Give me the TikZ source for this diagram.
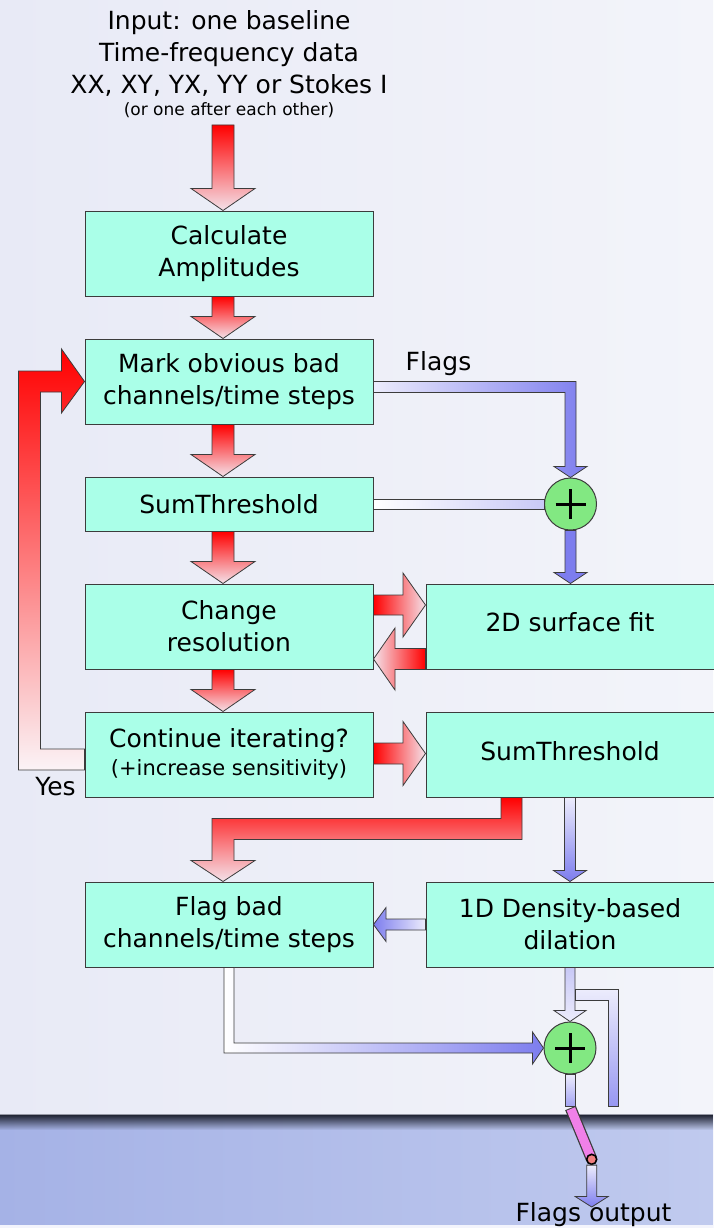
\documentclass[tikz,border=0pt]{standalone}
\usepackage{fontspec}
\setmainfont{DejaVu Sans}
\usetikzlibrary{calc,fadings}

\definecolor{boxfill}{RGB}{170,255,232}
\definecolor{boxline}{RGB}{60,60,60}
\definecolor{plusfill}{RGB}{130,232,130}
\definecolor{flowred}{RGB}{255,0,0}
\definecolor{redpale}{RGB}{244,226,234}
\definecolor{flowblue}{RGB}{125,125,238}
\definecolor{bluepale}{RGB}{236,236,252}
\definecolor{bluemid}{RGB}{200,200,246}
\definecolor{switchpink}{RGB}{240,128,232}
\definecolor{pivotred}{RGB}{240,128,128}
\definecolor{skyleft}{RGB}{232,234,246}
\definecolor{skyright}{RGB}{243,244,250}
\definecolor{bandleft}{RGB}{165,178,230}
\definecolor{bandright}{RGB}{192,202,238}
\definecolor{bandshadow}{RGB}{34,38,54}
\definecolor{bandedge}{RGB}{150,152,165}

\tikzset{
  procbox/.style={draw=boxline, fill=boxfill, line width=1pt, minimum width=288pt,
    minimum height=85pt, inner sep=0pt, align=center},
  thinbox/.style={procbox, minimum height=54pt},
  sumnode/.style={circle, draw=boxline, fill=plusfill, line width=1pt, minimum size=52pt, inner sep=0pt,
    path picture={\draw[line width=3pt, black]
      ([xshift=-15pt]path picture bounding box.center) -- ([xshift=15pt]path picture bounding box.center)
      ([yshift=-15pt]path picture bounding box.center) -- ([yshift=15pt]path picture bounding box.center);}},
  flow/.style={draw=boxline, line width=0.8pt},
  redflow/.style={flow, top color=flowred, bottom color=redpale},
}

% block arrow going down: style, from, to, shaft half width, head half width, head length
\newcommand{\downblock}[6]{%
  \path[#1] let \p1=(#2), \p2=(#3) in
    ({\x1-#4},{\y1}) -- ({\x1-#4},{\y2+#6}) -- ({\x1-#5},{\y2+#6}) -- ({\x1},{\y2})
    -- ({\x1+#5},{\y2+#6}) -- ({\x1+#4},{\y2+#6}) -- ({\x1+#4},{\y1}) -- cycle;}
% block arrow going left or right
\newcommand{\sideblock}[6]{%
  \path[#1] let \p1=(#2), \p2=(#3), \n1={(\x2-\x1)/abs(\x2-\x1)} in
    ({\x1},{\y1-#4}) -- ({\x2-(\n1)*#6},{\y1-#4}) -- ({\x2-(\n1)*#6},{\y1-#5}) -- ({\x2},{\y1})
    -- ({\x2-(\n1)*#6},{\y1+#5}) -- ({\x2-(\n1)*#6},{\y1+#4}) -- ({\x1},{\y1+#4}) -- cycle;}

\begin{document}
\begin{tikzpicture}[x=1pt, y=-1pt, font=\fontsize{25}{32}\selectfont]
	\useasboundingbox (0,0) rectangle (713,1228);
	% background
	\shade[left color=skyleft, right color=skyright] (0,0) rectangle (713,1114);
	\shade[left color=bandleft, right color=bandright] (0,1114) rectangle (713,1228);
	\fill[bandshadow, path fading=south] (0,1115) rectangle (713,1130);
	\draw[bandedge] (0,1114) -- (713,1114);
	\fill[white!80!bandright] (0,1225) rectangle (713,1228);

	% input text
	\node[anchor=north, inner sep=0pt, align=center] (input) at (229,10)
		{Input: one baseline\\Time-frequency data\\XX, XY, YX, YY or Stokes I};
	\node[anchor=base, inner sep=0pt, font=\fontsize{17}{20}\selectfont] (note) at (229,116)
		{(or one after each other)};

	% boxes
	\node[procbox] (calc) at (229,253.5) {Calculate\\Amplitudes};
	\node[procbox] (mark) at (229,381.5) {Mark obvious bad\\channels/time steps};
	\node[thinbox] (sumL) at (229,504) {SumThreshold};
	\node[procbox] (change) at (229,626.5) {Change\\resolution};
	\node[procbox] (cont) at (229,754.5)
		{Continue iterating?\\[-4pt]{\fontsize{21}{27}\selectfont(+increase sensitivity)}};
	\node[procbox] (flag) at (229,924.5) {Flag bad\\channels/time steps};
	\node[procbox] (fit) at (570,626.5) {\raisebox{8.5pt}{2D surface fit}};
	\node[procbox] (sumR) at (570,754.5) {\raisebox{6.5pt}{SumThreshold}};
	\node[procbox] (dens) at (570,924.5) {1D Density-based\\dilation};
	\node[sumnode] (plusA) at (570.5,504) {};
	\node[sumnode] (plusB) at (570,1048) {};

	\coordinate (feed) at (223,125);
	\coordinate (cutoff) at (570,1106);
	\coordinate (swtop) at (570.5,1108);
	\coordinate (hinge) at (591.7,1159.3);
	\coordinate (outtip) at (591.7,1207);

	% red flow
	\downblock{redflow}{feed}{calc.north}{11pt}{32pt}{22pt}
	\foreach \a/\b in {calc/mark, mark/sumL, sumL/change, change/cont}
		\downblock{redflow}{[xshift=-6pt]\a.south}{\b.north}{11pt}{32pt}{22pt};
	\sideblock{flow, left color=flowred, right color=redpale}{[yshift=21.5pt]change.east}{[yshift=21.5pt]fit.west}{10pt}{32pt}{22.5pt}
	\sideblock{flow, left color=redpale, right color=flowred}{[yshift=-32.5pt]fit.west}{[yshift=-32.5pt]change.east}{10.5pt}{31pt}{21.5pt}
	\sideblock{flow, left color=flowred, right color=redpale}{[yshift=1pt]cont.east}{[yshift=1pt]sumR.west}{10.5pt}{32pt}{22.5pt}
	% Yes loop
	\path[flow, top color=flowred, bottom color=redpale!40!white] let \p1=(cont.west), \p2=(mark.west) in
		({\x1},{\y1+5.5pt}) -- ({\x1-44pt},{\y1+5.5pt}) -- ({\x1-44pt},{\y2-10.5pt}) -- ({\x2-23pt},{\y2-10.5pt})
		-- ({\x2-23pt},{\y2-31.5pt}) -- ({\x2},{\y2}) -- ({\x2-23pt},{\y2+32.5pt}) -- ({\x2-23pt},{\y2+10.5pt})
		-- ({\x1-66pt},{\y2+10.5pt}) -- ({\x1-66pt},{\y1-15.5pt}) -- ({\x1},{\y1-15.5pt}) -- cycle;
	\node[anchor=base] (yes) at (55.5,795.5) {Yes};
	% SumThreshold to flagging
	\path[redflow] let \p1=(sumR.south), \p2=(flag.north) in
		({\x1-69pt},{\y1}) -- ({\x1-69pt},{\y1-21pt}) -- ({\x2-17pt},{\y1-21pt}) -- ({\x2-17pt},{\y2+21pt})
		-- ({\x2-38pt},{\y2+21pt}) -- ({\x2-6pt},{\y2}) -- ({\x2+26pt},{\y2+21pt}) -- ({\x2+5pt},{\y2+21pt})
		-- ({\x2+5pt},{\y1-42pt}) -- ({\x1-48pt},{\y1-42pt}) -- ({\x1-48pt},{\y1}) -- cycle;

	% blue flags
	\path[flow, left color=bluepale, right color=flowblue] let \p1=(mark.east), \p2=(plusA.north) in
		({\x1},{\y1}) -- ({\x2+5.5pt},{\y1}) -- ({\x2+5.5pt},{\y2+11pt}) -- ({\x2+16.5pt},{\y2+11pt}) -- ({\x2},{\y2})
		-- ({\x2-16.5pt},{\y2+11pt}) -- ({\x2-5.5pt},{\y2+11pt}) -- ({\x2-5.5pt},{\y1-11pt}) -- ({\x1},{\y1-11pt}) -- cycle;
	\node[anchor=base] (flagstext) at (438.5,370) {Flags};
	\path[flow, left color=white, right color=bluemid] let \p1=(sumL.east), \p2=(plusA.west) in
		({\x1},{\y1-5pt}) rectangle ({\x2},{\y1+5pt});
	\downblock{flow, fill=flowblue}{plusA.south}{fit.north}{5.5pt}{16.5pt}{11pt}
	\downblock{flow, top color=bluepale, bottom color=flowblue}{sumR.south}{dens.north}{5.5pt}{16.5pt}{11pt}
	\sideblock{flow, left color=flowblue, right color=bluepale}{dens.west}{flag.east}{5.5pt}{17pt}{12.5pt}
	\downblock{flow, top color=bluemid, bottom color=bluepale}{dens.south}{plusB.north}{5pt}{16pt}{11pt}
	\path[flow, top color=bluepale, bottom color=flowblue!80!white] let \p1=(dens.south), \p2=(cutoff) in
		({\x1+5pt},{\y1-22pt}) -- ({\x1+48pt},{\y1-22pt}) -- ({\x1+48pt},{\y2}) -- ({\x1+38pt},{\y2})
		-- ({\x1+38pt},{\y1-33pt}) -- ({\x1+5pt},{\y1-33pt}) -- cycle;
	\path[flow, left color=white, right color=flowblue] let \p1=(flag.south), \p2=(plusB.west) in
		({\x1-5pt},{\y1}) -- ({\x1-5pt},{\y2-5pt}) -- ({\x2-11pt},{\y2-5pt}) -- ({\x2-11pt},{\y2-16pt}) -- ({\x2},{\y2})
		-- ({\x2-11pt},{\y2+16pt}) -- ({\x2-11pt},{\y2+5pt}) -- ({\x1+5pt},{\y2+5pt}) -- ({\x1+5pt},{\y1}) -- cycle;
	\path[flow, top color=bluepale, bottom color=flowblue!70!white] let \p1=(plusB.south), \p2=(cutoff) in
		({\x1-5pt},{\y1}) rectangle ({\x1+5pt},{\y2});

	% output switch
	\draw[line width=11.5pt, boxline] (swtop) -- (hinge);
	\draw[line width=9pt, switchpink, shorten <=1pt, shorten >=1pt] (swtop) -- (hinge);
	\node[circle, draw=black, line width=1.6pt, fill=pivotred, minimum size=10pt, inner sep=0pt] (pivotdot) at (hinge) {};
	\downblock{flow, top color=bluepale, bottom color=flowblue}{pivotdot.south}{outtip}{5pt}{16.5pt}{10.5pt}
	\node[anchor=base] (flagsout) at (593.5,1221.7) {Flags output};
\end{tikzpicture}
\end{document}
